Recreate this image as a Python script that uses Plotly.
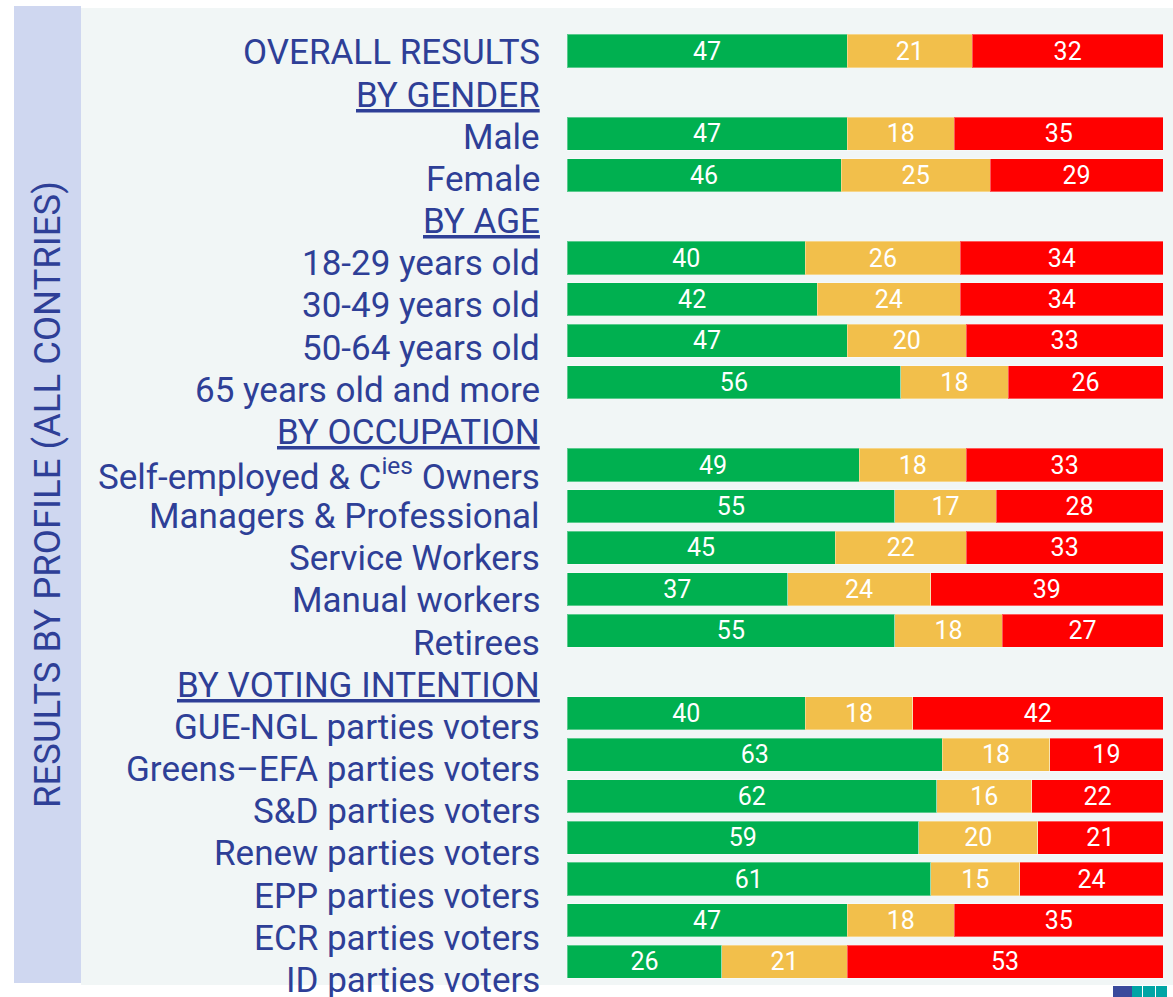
import plotly.graph_objects as go

# Survey results by respondent profile (percent)
groups = [
    ("OVERALL RESULTS", None),
    ("BY GENDER", ["Male", "Female"]),
    ("BY AGE", ["18-29 years old", "30-49 years old", "50-64 years old",
                "65 years old and more"]),
    ("BY OCCUPATION", ["Self-employed & C<sup>ies</sup> Owners", "Managers & Professional",
                       "Service Workers", "Manual workers", "Retirees"]),
    ("BY VOTING INTENTION", ["GUE-NGL parties voters", "Greens\u2013EFA parties voters",
                             "S&D parties voters", "Renew parties voters",
                             "EPP parties voters", "ECR parties voters",
                             "ID parties voters"]),
]

green = [47, 47, 46, 40, 42, 47, 56, 49, 55, 45, 37, 55, 40, 63, 62, 59, 61, 47, 26]
yellow = [21, 18, 25, 26, 24, 20, 18, 18, 17, 22, 24, 18, 18, 18, 16, 20, 15, 18, 21]
red = [32, 35, 29, 34, 34, 33, 26, 33, 28, 33, 39, 27, 42, 19, 22, 21, 24, 35, 53]

GREEN = "#00b050"
YELLOW = "#f2bf4b"
RED = "#ff0000"
TEXT = "#2e3f97"
FONT = "Roboto"

W, H = 1173, 997

# Build the row layout: header rows have no bar
labels = []      # (text, is_header)
bar_rows = []    # row index of each bar
row = 0
for head, items in groups:
    if items is None:
        labels.append((head, False))
        bar_rows.append(row)
        row += 1
    else:
        labels.append((head, True))
        row += 1
        for it in items:
            labels.append((it, False))
            bar_rows.append(row)
            row += 1
n_rows = row

fig = go.Figure()
for name, vals, col in [("Green", green, GREEN), ("Yellow", yellow, YELLOW), ("Red", red, RED)]:
    fig.add_trace(go.Bar(
        y=bar_rows, x=vals, orientation="h", name=name,
        marker=dict(color=col, line=dict(color="rgba(255,255,255,0.35)", width=1)),
        text=vals, texttemplate="%{x}", textposition="inside", textangle=0,
        insidetextanchor="middle", constraintext="none",
        textfont=dict(family=FONT, size=25, color="white"),
        hoverinfo="skip",
    ))

# y range so that row i sits at pixel 51 + 41.4 * i
step = 41.4
top_px = 51
y_top = -top_px / step
y_bottom = (H - top_px) / step

fig.update_layout(
    width=W, height=H,
    margin=dict(l=0, r=0, t=0, b=0),
    barmode="stack", bargap=0.2,
    showlegend=False,
    paper_bgcolor="white", plot_bgcolor="rgba(0,0,0,0)",
    xaxis=dict(domain=[567 / W, 1163 / W], range=[0, 100], visible=False, fixedrange=True),
    yaxis=dict(domain=[0, 1], range=[y_bottom, y_top], visible=False, fixedrange=True),
    font=dict(family=FONT, color=TEXT),
)

def px_x(p):
    return p / W

def px_y(p):
    return 1 - p / H

shapes = [
    dict(type="rect", xref="paper", yref="paper", layer="below",
         x0=px_x(81), x1=px_x(1173), y0=px_y(985), y1=px_y(8),
         fillcolor="#f1f6f6", line=dict(width=0)),
    dict(type="rect", xref="paper", yref="paper", layer="below",
         x0=px_x(14), x1=px_x(81), y0=px_y(983), y1=px_y(6),
         fillcolor="#cfd7f0", line=dict(width=0)),
    dict(type="rect", xref="paper", yref="paper", layer="above",
         x0=px_x(1113), x1=px_x(1132), y0=px_y(997), y1=px_y(986),
         fillcolor="#3a4a9c", line=dict(width=0)),
]
for a, b in [(1132, 1142), (1143, 1155), (1156, 1167)]:
    shapes.append(dict(type="rect", xref="paper", yref="paper", layer="above",
                       x0=px_x(a), x1=px_x(b), y0=px_y(997), y1=px_y(986),
                       fillcolor="#00a5a5", line=dict(width=0)))

annotations = []
lab_step = 42.15
lab_top = 53
for j, (txt, is_header) in enumerate(labels):
    annotations.append(dict(
        xref="paper", yref="paper", x=px_x(542), y=px_y(lab_top + lab_step * j),
        xanchor="right", yanchor="middle", showarrow=False,
        text=f"<u>{txt}</u>" if is_header else txt,
        font=dict(family=FONT, size=35, color=TEXT),
    ))

annotations.append(dict(
    xref="paper", yref="paper", x=px_x(47), y=px_y(495),
    xanchor="center", yanchor="middle", showarrow=False, textangle=-90,
    text="RESULTS BY PROFILE (ALL CONTRIES)",
    font=dict(family=FONT, size=36.5, color=TEXT),
))

fig.update_layout(shapes=shapes, annotations=annotations)
fig.write_html("out.html")
